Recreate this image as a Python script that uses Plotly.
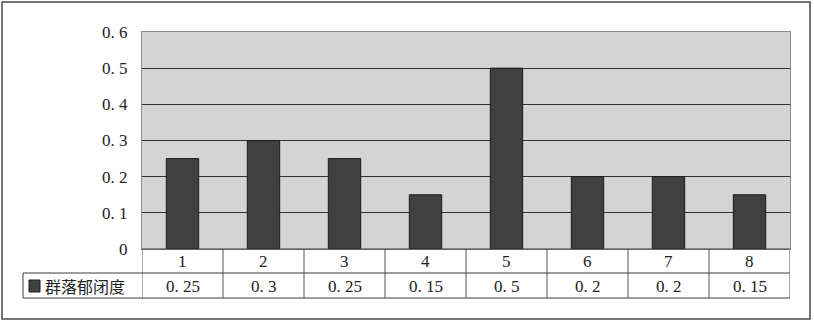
import plotly.graph_objects as go

categories = [1, 2, 3, 4, 5, 6, 7, 8]
values = [0.25, 0.3, 0.25, 0.15, 0.5, 0.2, 0.2, 0.15]
series_name = "群落郁闭度"
y_ticks = [0, 0.1, 0.2, 0.3, 0.4, 0.5, 0.6]


def fmt(v):
    s = f"{v:g}"
    return s.replace(".", ". ")


W, H = 814, 323
L, R, T, B = 142, 790, 32, 249
PW, PH = R - L, B - T


def px(x):
    return (x - L) / PW


def py(y):
    return (B - y) / PH


NUM_FONT = "Liberation Serif"
CJK_FONT = "Noto Sans CJK SC"
BAR_COLOR = "#404040"
LINE = "#3a3a3a"
TXT = "#222222"

fig = go.Figure()
fig.add_trace(go.Bar(
    x=categories, y=values, width=0.4, name=series_name,
    marker=dict(color=BAR_COLOR, line=dict(color="#1c1c1c", width=1)),
    showlegend=False,
))

shapes = []
# outer chart border
shapes.append(dict(type="rect", xref="paper", yref="paper",
                   x0=px(2), x1=px(810), y0=py(319), y1=py(2),
                   line=dict(color="#4a4a4a", width=1.5), layer="above"))
# data table horizontal lines
n = len(categories)
lo, hi = categories[0] - 0.5, categories[-1] + 0.5
shapes.append(dict(type="line", xref="x", yref="paper", x0=lo, x1=hi,
                   y0=py(249), y1=py(249), line=dict(color=LINE, width=1)))
for yy in (273, 298):
    shapes.append(dict(type="line", xref="paper", yref="paper", x0=px(23), x1=1,
                       y0=py(yy), y1=py(yy), line=dict(color=LINE, width=1)))
# column separators
for i in range(n + 1):
    xb = categories[0] - 0.5 + i
    shapes.append(dict(type="line", xref="x", yref="paper", x0=xb, x1=xb,
                       y0=py(249), y1=py(298), line=dict(color="#555555", width=1)))
# legend cell left border
shapes.append(dict(type="line", xref="paper", yref="paper", x0=px(23), x1=px(23),
                   y0=py(273), y1=py(298), line=dict(color=LINE, width=1)))
# legend key
shapes.append(dict(type="rect", xref="paper", yref="paper",
                   x0=px(29), x1=px(40), y0=py(292), y1=py(280),
                   fillcolor=BAR_COLOR, line=dict(color="#1c1c1c", width=1)))

annotations = []
for c, v in zip(categories, values):
    annotations.append(dict(x=c, y=py(261.5), xref="x", yref="paper", text=str(c),
                            xanchor="center", yanchor="middle",
                            showarrow=False, font=dict(family=NUM_FONT, size=17, color=TXT)))
    annotations.append(dict(x=c, y=py(286), xref="x", yref="paper", text=fmt(v),
                            xanchor="center", yanchor="middle",
                            showarrow=False, font=dict(family=NUM_FONT, size=17, color=TXT)))
annotations.append(dict(x=px(43), y=py(286), xref="paper", yref="paper", text=series_name,
                        xanchor="left", yanchor="middle", showarrow=False,
                        font=dict(family=CJK_FONT, size=16, color=TXT)))

fig.update_layout(
    width=W, height=H,
    margin=dict(l=L, r=W - R, t=T, b=H - B),
    paper_bgcolor="white", plot_bgcolor="#d4d4d4",
    shapes=shapes, annotations=annotations,
    bargap=0.6,
    xaxis=dict(range=[lo, hi], showticklabels=False, showgrid=False, zeroline=False,
               showline=True, mirror=True, linecolor="#8a8a8a", linewidth=1, ticks=""),
    yaxis=dict(range=[0, 0.6], tickvals=y_ticks, ticktext=[fmt(t) for t in y_ticks],
               showgrid=True, gridcolor="#333333", gridwidth=1, zeroline=False,
               showline=True, mirror=True, linecolor="#8a8a8a", linewidth=1,
               ticks="", ticklabelstandoff=10,
               tickfont=dict(family=NUM_FONT, size=17, color=TXT)),
)

fig.write_html("out.html")
